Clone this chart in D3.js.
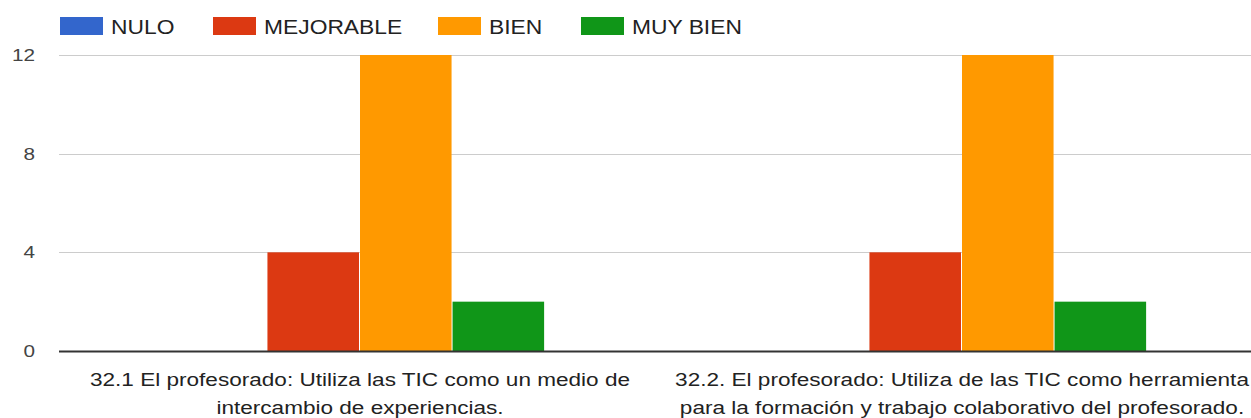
<!DOCTYPE html>
<html>
<head>
<meta charset="utf-8">
<script src="https://cdn.jsdelivr.net/npm/d3@7"></script>
<style>
  body { margin: 0; background: #fff; }
  svg { display: block; font-family: Arial, "Liberation Sans", sans-serif; }
</style>
</head>
<body>
<div id="chart"></div>
<script>
const categories = [
    '32.1 El profesorado: Utiliza las TIC como un medio de\nintercambio de experiencias.',
    '32.2. El profesorado: Utiliza de las TIC como herramienta\npara la formación y trabajo colaborativo del profesorado.'
];
const seriesNames = ['NULO', 'MEJORABLE', 'BIEN', 'MUY BIEN'];
const seriesColors = ['#3366cc', '#dc3912', '#ff9900', '#109618'];
const nulo = [0, 0];
const mejorable = [4, 4];
const bien = [12, 12];
const muyBien = [2, 2];
const yTicks = [0, 4, 8, 12];

const width = 1251;
const height = 418;
const margin = { top: 55, right: -12, bottom: 67, left: 59 };
const stretch = 1.22; // text in the picture is a bit wide

const series = [nulo, mejorable, bien, muyBien];
const data = categories.map((c, i) => ({
    category: c,
    values: seriesNames.map((name, j) => ({ name, value: series[j][i], color: seriesColors[j] }))
}));

const svg = d3.select('#chart')
    .append('svg')
    .attr('width', width)
    .attr('height', height);

const x0 = d3.scaleBand()
    .domain(categories)
    .range([margin.left, width - margin.right])
    .paddingInner(0.385)
    .paddingOuter(0.1925);

const x1 = d3.scaleBand()
    .domain(seriesNames)
    .range([0, x0.bandwidth()]);

const y = d3.scaleLinear()
    .domain([0, 12])
    .range([height - margin.bottom, margin.top]);

// gridlines
svg.append('g')
    .selectAll('line')
    .data(yTicks.filter(d => d !== 0))
    .join('line')
    .attr('x1', margin.left)
    .attr('x2', width)
    .attr('y1', d => Math.round(y(d)) + 0.5)
    .attr('y2', d => Math.round(y(d)) + 0.5)
    .attr('stroke', '#cccccc')
    .attr('stroke-width', 1);

// y tick labels
svg.append('g')
    .selectAll('text')
    .data(yTicks)
    .join('text')
    .attr('transform', d => `translate(35,${y(d) + 6}) scale(${stretch},1)`)
    .attr('text-anchor', 'end')
    .attr('font-size', 17)
    .attr('fill', '#444')
    .text(d => d);

// bars
const groups = svg.append('g')
    .selectAll('g')
    .data(data)
    .join('g')
    .attr('transform', d => `translate(${x0(d.category)},0)`);

groups.selectAll('rect')
    .data(d => d.values.filter(v => v.value > 0))
    .join('rect')
    .attr('x', d => x1(d.name))
    .attr('width', x1.bandwidth() - 1)
    .attr('y', d => y(d.value))
    .attr('height', d => y(0) - y(d.value))
    .attr('fill', d => d.color);

// baseline
svg.append('line')
    .attr('x1', margin.left)
    .attr('x2', width)
    .attr('y1', y(0) + 0.5)
    .attr('y2', y(0) + 0.5)
    .attr('stroke', '#333')
    .attr('stroke-width', 2);

// x labels
const xLabels = svg.append('g')
    .selectAll('text')
    .data(categories)
    .join('text')
    .attr('transform', d => `translate(${x0(d) + x0.bandwidth() / 2},386) scale(${stretch},1)`)
    .attr('text-anchor', 'middle')
    .attr('font-size', 18.5)
    .attr('fill', '#222');

xLabels.selectAll('tspan')
    .data(d => d.split('\n'))
    .join('tspan')
    .attr('x', 0)
    .attr('dy', (d, i) => i === 0 ? 0 : 28)
    .text(d => d);

// legend
const legendX = [60, 213, 438, 581];
const legend = svg.append('g')
    .selectAll('g')
    .data(seriesNames)
    .join('g')
    .attr('transform', (d, i) => `translate(${legendX[i]},17)`);

legend.append('rect')
    .attr('width', 43)
    .attr('height', 18)
    .attr('fill', (d, i) => seriesColors[i]);

legend.append('text')
    .attr('transform', `translate(51,17) scale(${stretch * 0.96},1)`)
    .attr('font-size', 19.5)
    .attr('fill', '#222')
    .text(d => d);
</script>
</body>
</html>
